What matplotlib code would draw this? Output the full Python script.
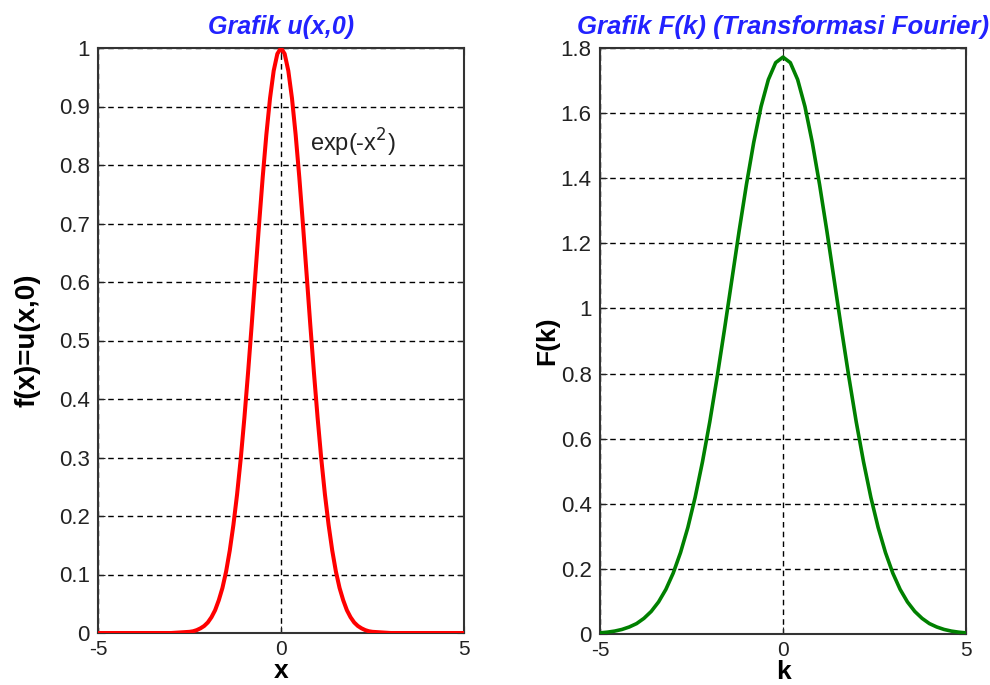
import matplotlib.pyplot as plt

plt.rcParams['font.family'] = ['Liberation Sans', 'DejaVu Sans']

# initial condition u(x,0)
x_vals = [-5.0, -4.5, -4.0, -3.5, -3.0, -2.5, -2.4, -2.3, -2.2, -2.1,
          -2.0, -1.9, -1.8, -1.7, -1.6, -1.5, -1.4, -1.3, -1.2, -1.1,
          -1.0, -0.9, -0.8, -0.7, -0.6, -0.5, -0.4, -0.3, -0.2, -0.1,
          0.0, 0.1, 0.2, 0.3, 0.4, 0.5, 0.6, 0.7, 0.8, 0.9,
          1.0, 1.1, 1.2, 1.3, 1.4, 1.5, 1.6, 1.7, 1.8, 1.9,
          2.0, 2.1, 2.2, 2.3, 2.4, 2.5, 3.0, 3.5, 4.0, 4.5, 5.0]
u_vals = [0.0, 0.0, 0.0, 0.0, 0.0, 0.002, 0.003, 0.005, 0.008, 0.012,
          0.018, 0.027, 0.039, 0.056, 0.077, 0.105, 0.141, 0.185, 0.237, 0.298,
          0.368, 0.445, 0.527, 0.613, 0.698, 0.779, 0.852, 0.914, 0.961, 0.990,
          1.0, 0.990, 0.961, 0.914, 0.852, 0.779, 0.698, 0.613, 0.527, 0.445,
          0.368, 0.298, 0.237, 0.185, 0.141, 0.105, 0.077, 0.056, 0.039, 0.027,
          0.018, 0.012, 0.008, 0.005, 0.003, 0.002, 0.0, 0.0, 0.0, 0.0, 0.0]

# Fourier transform F(k)
k_vals = [-5.0, -4.8, -4.6, -4.4, -4.2, -4.0, -3.8, -3.6, -3.4, -3.2,
          -3.0, -2.8, -2.6, -2.4, -2.2, -2.0, -1.8, -1.6, -1.4, -1.2,
          -1.0, -0.8, -0.6, -0.4, -0.2, 0.0, 0.2, 0.4, 0.6, 0.8,
          1.0, 1.2, 1.4, 1.6, 1.8, 2.0, 2.2, 2.4, 2.6, 2.8,
          3.0, 3.2, 3.4, 3.6, 3.8, 4.0, 4.2, 4.4, 4.6, 4.8, 5.0]
F_vals = [0.0034, 0.0056, 0.0089, 0.014, 0.0216, 0.032, 0.048, 0.0694, 0.0985, 0.137,
          0.187, 0.250, 0.327, 0.420, 0.529, 0.652, 0.789, 0.935, 1.086, 1.237,
          1.380, 1.510, 1.620, 1.703, 1.755, 1.772, 1.755, 1.703, 1.620, 1.510,
          1.380, 1.237, 1.086, 0.935, 0.789, 0.652, 0.529, 0.420, 0.327, 0.250,
          0.187, 0.137, 0.0985, 0.0694, 0.048, 0.032, 0.0216, 0.014, 0.0089, 0.0056, 0.0034]

left_yticks = [0, 0.1, 0.2, 0.3, 0.4, 0.5, 0.6, 0.7, 0.8, 0.9, 1]
right_yticks = [0, 0.2, 0.4, 0.6, 0.8, 1, 1.2, 1.4, 1.6, 1.8]
xticks = [-5, 0, 5]

fig = plt.figure(figsize=(9.9, 6.85), dpi=100)
ax1 = fig.add_axes([98 / 990, 1 - 633 / 685, 366 / 990, 585 / 685])
ax2 = fig.add_axes([600 / 990, 1 - 634 / 685, 366 / 990, 586 / 685])


def style(ax, yticks):
    ax.set_xlim(-5, 5)
    ax.set_xticks(xticks)
    ax.set_xticklabels([str(t) for t in xticks])
    ax.set_ylim(yticks[0], yticks[-1])
    ax.set_yticks(yticks)
    ax.set_yticklabels(['%g' % t for t in yticks])
    ax.grid(True, color='black', linestyle=(0, (4, 3)), linewidth=1.0)
    ax.tick_params(direction='in', length=5, labelsize=16, colors='#222222',
                   top=True, right=True)
    ax.tick_params(axis='x', pad=5, labelsize=15)
    ax.tick_params(axis='y', pad=6)
    for sp in ax.spines.values():
        sp.set_linewidth(1.5)
        sp.set_color('#333333')


ax1.plot(x_vals, u_vals, color='#ff0000', linewidth=2.9, zorder=3)
style(ax1, left_yticks)
ax1.set_title('Grafik u(x,0)', color='#2222ff', fontsize=18, fontweight='bold',
              fontstyle='italic', pad=10)
ax1.set_xlabel('x', fontsize=19, fontweight='bold', labelpad=0)
ax1.set_ylabel('f(x)=u(x,0)', fontsize=20, fontweight='bold', labelpad=13)
ax1.text(0.78, 0.838, r'exp(-x$^2$)', fontsize=17, color='#222222', va='center')

ax2.plot(k_vals, F_vals, color='#008000', linewidth=2.6, zorder=3)
style(ax2, right_yticks)
ax2.set_title('Grafik F(k) (Transformasi Fourier)', color='#2222ff', fontsize=18.5,
              fontweight='bold', fontstyle='italic', pad=10)
ax2.set_xlabel('k', fontsize=19, fontweight='bold', labelpad=0)
ax2.set_ylabel('F(k)', fontsize=19, fontweight='bold', labelpad=1)

fig.savefig('out.png', dpi=100)
